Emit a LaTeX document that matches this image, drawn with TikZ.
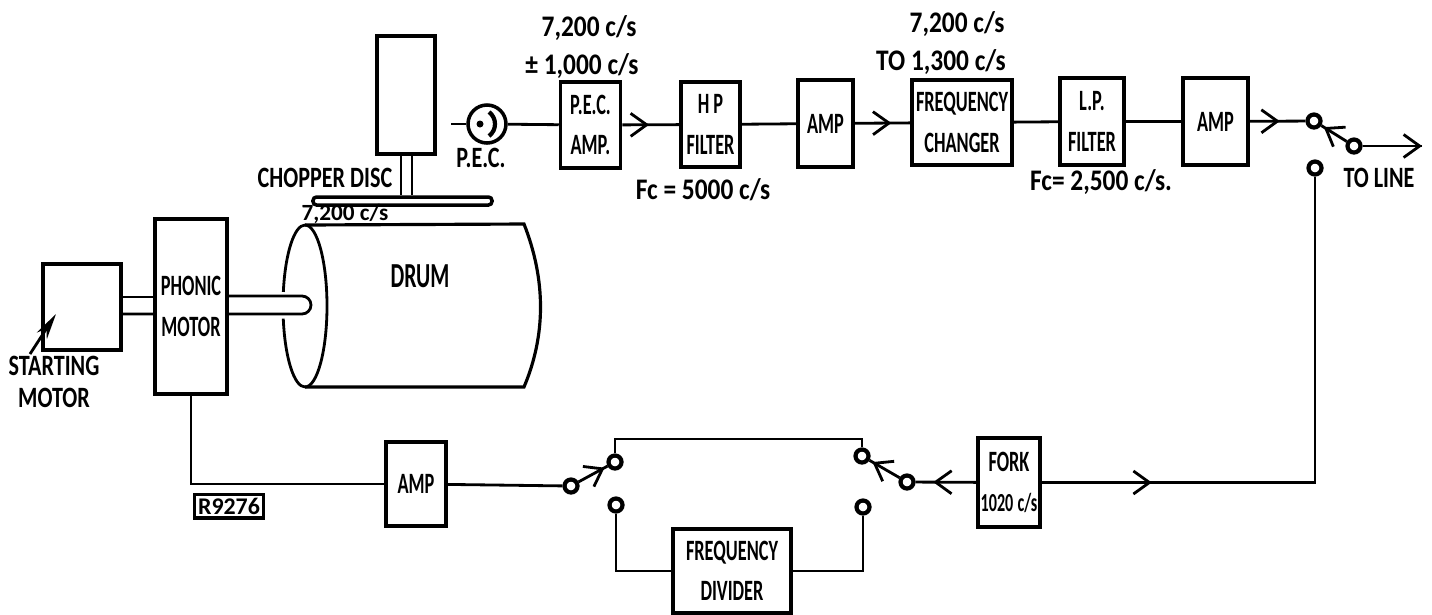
\documentclass[tikz,border=0pt]{standalone}
\usepackage{fontspec}
\usepackage{tikz}
\usetikzlibrary{positioning,arrows.meta,decorations.markings}
\setmainfont{Carlito}
\newfontfamily\boxfont[FakeStretch=0.62]{Carlito}
\newfontfamily\labelfont[FakeStretch=0.75]{Carlito}
\newfontfamily\notefont[FakeStretch=0.85]{Carlito}

\begin{document}
\begin{tikzpicture}[
        line width=0.8pt,
        >={Straight Barb[length=1.6mm,width=2.3mm,line width=0.8pt]},
        every node/.style={align=center},
        box/.style={rectangle, draw=black, inner sep=0pt, line width=1pt, font=\boxfont\fontsize{8.4}{11.5}\selectfont\bfseries},
        contact/.style={circle, draw=black, fill=white, line width=1.2pt, inner sep=0pt, minimum size=0.13cm},
        tag/.style={font=\labelfont\fontsize{8.4}{8}\selectfont\bfseries},
        note/.style={font=\notefont\fontsize{8.5}{10}\selectfont\bfseries},
        flow/.style={postaction={decorate}, decoration={markings, mark=at position #1 with {\arrow{>}}}}
    ]
        \useasboundingbox (0, 0) rectangle (14.32, -6.14);

        % Chopper drive
        \node[box, minimum width=0.58cm, minimum height=1.18cm] (choppermotor) at (4.06, -0.95) {};
        \node[box, rounded corners=1pt, minimum width=1.79cm, minimum height=0.08cm] (disc) at (4.025, -2.01) {};
        \draw ([xshift=-0.05cm]choppermotor.south) -- ([xshift=-0.05cm]choppermotor.south |- disc.north);
        \draw ([xshift=0.06cm]choppermotor.south) -- ([xshift=0.06cm]choppermotor.south |- disc.north);
        \node[tag] (chopperlabel) at (3.25, -1.78) {CHOPPER DISC};
        \node[font=\fontsize{6.6}{8}\selectfont\bfseries] (discfreq) at (3.45, -2.135) {7,200 c/s};

        % Motors
        \node[box, minimum width=0.78cm, minimum height=0.86cm] (startmotor) at (0.82, -3.07) {};
        \node[box, minimum width=0.72cm, minimum height=1.75cm] (phonic) at (1.91, -3.065) {PHONIC\\MOTOR};
        \draw ([yshift=0.1cm]startmotor.east) -- ([yshift=0.095cm]phonic.west);
        \draw ([yshift=-0.07cm]startmotor.east) -- ([yshift=-0.075cm]phonic.west);
        \node[tag] (startlabel) at (0.54, -3.82) {STARTING\\[1pt]MOTOR};
        \coordinate (starttail) at (0.3, -3.54);
        \coordinate (starttip) at (0.56, -3.14);
        \draw[-{Stealth[length=2.6mm,width=1.2mm]}] (starttail) -- (starttip);

        % Drum and shaft
        \draw (3.05, -2.25) arc (90:-90:0.22 and 0.81);
        \draw (3.05, -2.25) arc (90:170:0.22 and 0.81);
        \draw (3.05, -3.87) arc (270:189:0.22 and 0.81);
        \draw[line width=0.9pt] (3.05, -2.25) -- (5.24, -2.24) .. controls (5.46, -2.8) and (5.46, -3.35) .. (5.24, -3.87) -- (3.05, -3.87);
        \coordinate (shafttop) at (3.02, -2.96);
        \draw (phonic.east |- shafttop) -- (shafttop) arc (90:-90:0.09) -- (phonic.east |- 0, -3.14);
        \node[box, draw=none, font=\boxfont\fontsize{10}{12}\selectfont\bfseries] (drum) at (4.2, -2.76) {DRUM};

        % Top chain
        \node[circle, draw=black, line width=1pt, inner sep=0pt, minimum size=0.38cm] (pec) at (4.87, -1.24) {};
        \fill (4.80, -1.24) circle (0.035);
        \draw[line width=1.2pt] (4.89, -1.12) .. controls (4.97, -1.18) and (4.97, -1.30) .. (4.89, -1.36);
        \coordinate (peclead) at (4.51, -1.24);
        \draw (peclead) -- (pec);
        \node[tag] (peclabel) at (4.81, -1.58) {P.E.C.};
        \node[box, minimum width=0.60cm, minimum height=0.86cm] (pecamp) at (5.905, -1.25) {P.E.C.\\AMP.};
        \node[box, minimum width=0.59cm, minimum height=0.85cm] (hp) at (7.105, -1.245) {H P\\FILTER};
        \node[box, minimum width=0.55cm, minimum height=0.87cm] (amptop) at (8.255, -1.235) {AMP};
        \node[box, minimum width=1.00cm, minimum height=0.85cm] (changer) at (9.62, -1.225) {FREQUENCY\\CHANGER};
        \node[box, minimum width=0.64cm, minimum height=0.87cm] (lp) at (10.92, -1.215) {L.P.\\FILTER};
        \node[box, minimum width=0.65cm, minimum height=0.87cm] (ampout) at (12.155, -1.215) {AMP};

        \draw (pec) -- (pecamp);
        \draw[flow=0.47] (pecamp) -- (hp);
        \draw (hp) -- (amptop);
        \draw[flow=0.66] (amptop) -- (changer);
        \draw (changer) -- (lp);
        \draw (lp) -- (ampout);

        % Output switch
        \node[contact] (outtop) at (13.14, -1.21) {};
        \node[contact] (outpole) at (13.54, -1.46) {};
        \node[contact] (outlow) at (13.15, -1.68) {};
        \coordinate (lineend) at (14.22, -1.46);
        \draw[flow=0.54] (ampout) -- (outtop);
        \draw[flow=0.9] (outpole) -- (outtop);
        \draw[flow=1] (outpole) -- (lineend);
        \node[tag] (tolabel) at (13.79, -1.78) {TO LINE};

        % Labels on the top chain
        \node[note] (freqa) at (5.89, -0.28) {7,200 c/s};
        \node[note] (freqb) at (5.82, -0.66) {± 1,000 c/s};
        \node[note] (freqc) at (9.57, -0.24) {7,200 c/s};
        \node[note] (freqd) at (9.41, -0.62) {TO 1,300 c/s};
        \node[note] (fca) at (7.03, -1.9) {Fc = 5000 c/s};
        \node[note] (fcb) at (11.01, -1.82) {Fc= 2,500 c/s.};

        % Lower chain
        \node[box, minimum width=0.6cm, minimum height=0.84cm] (amplow) at (4.16, -4.84) {AMP};
        \node[box, minimum width=1.18cm, minimum height=0.84cm] (divider) at (7.32, -5.71) {FREQUENCY\\DIVIDER};
        \node[box, minimum width=0.62cm, minimum height=0.89cm] (fork) at (10.09, -4.825) {FORK\\{\fontsize{7.4}{11.5}\selectfont 1020\,c/s}};
        \node[contact] (leftpole) at (5.71, -4.86) {};
        \node[contact] (lefttop) at (6.15, -4.62) {};
        \node[contact] (leftlow) at (6.16, -5.05) {};
        \node[contact] (rightpole) at (9.07, -4.82) {};
        \node[contact] (righttop) at (8.62, -4.56) {};
        \node[contact] (rightlow) at (8.63, -5.07) {};
        \draw (amplow) -- (leftpole);
        \draw[flow=0.9] (leftpole) -- (lefttop);
        \draw[flow=0.9] (rightpole) -- (righttop);
        \draw (lefttop) |- (6.15, -4.39) -| (righttop);
        \draw (leftlow) |- (divider.west);
        \draw (rightlow) |- (divider.east);
        \draw[flow=0.71] (fork) -- (rightpole);
        \draw[flow=0.19] (fork) -| (outlow);
        \draw (phonic) |- (amplow);

        % Drawing number
        \node[draw=black, line width=1pt, inner sep=1pt, minimum width=0.64cm, minimum height=0.2cm, font=\fontsize{6.8}{8}\selectfont\bfseries] (number) at (2.29, -5.06) {R9276};
    \end{tikzpicture}
\end{document}
